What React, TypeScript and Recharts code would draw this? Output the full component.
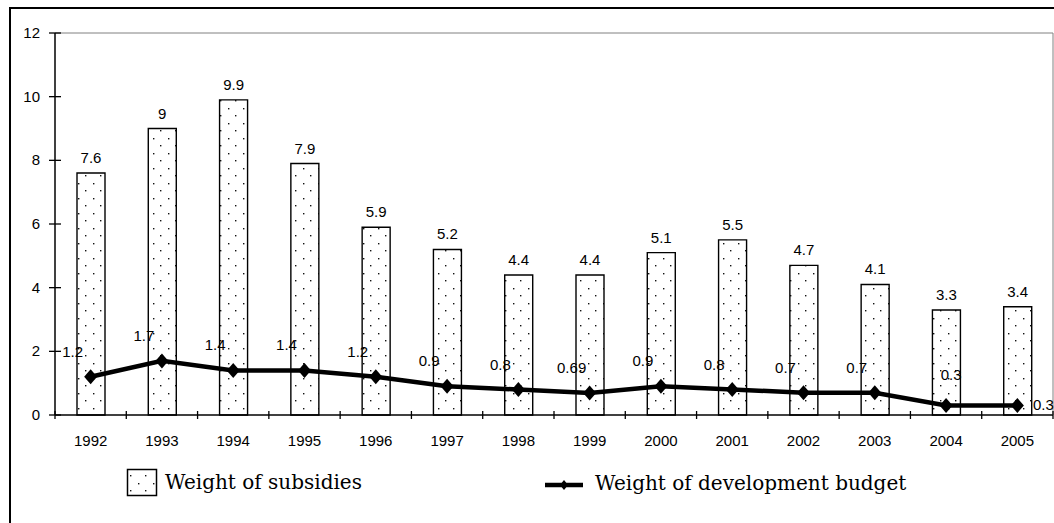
import React from "react";
import {
  ComposedChart,
  Bar,
  Line,
  XAxis,
  YAxis,
  LabelList,
  ReferenceLine,
} from "recharts";

const years = [
  "1992", "1993", "1994", "1995", "1996", "1997", "1998",
  "1999", "2000", "2001", "2002", "2003", "2004", "2005",
];
const subsidies = [7.6, 9, 9.9, 7.9, 5.9, 5.2, 4.4, 4.4, 5.1, 5.5, 4.7, 4.1, 3.3, 3.4];
const development = [1.2, 1.7, 1.4, 1.4, 1.2, 0.9, 0.8, 0.69, 0.9, 0.8, 0.7, 0.7, 0.3, 0.3];
const yTicks = [0, 2, 4, 6, 8, 10, 12];

const data = years.map((year, i) => ({
  year,
  subsidies: subsidies[i],
  development: development[i],
}));

const W = 1054;
const H = 523;
const Y_AXIS_W = 55;
const PLOT_W = W - Y_AXIS_W - 1;
const SANS = "'Liberation Sans', Arial, sans-serif";
const SERIF = "'DejaVu Serif', serif";

/* ticks cross the axis line, Excel style */
function XTick(props: any) {
  const { x, y, payload, index } = props;
  const bw = PLOT_W / years.length;
  return (
    <g>
      <line x1={x - bw / 2} x2={x - bw / 2} y1={y - 4} y2={y + 4} stroke="#000" strokeWidth={1.3} />
      {index === years.length - 1 && (
        <line x1={x + bw / 2} x2={x + bw / 2} y1={y - 4} y2={y + 4} stroke="#000" strokeWidth={1.3} />
      )}
      <text x={x} y={y + 31} textAnchor="middle" fontSize={15} fontFamily={SANS} fill="#000">
        {payload.value}
      </text>
    </g>
  );
}

function YTick(props: any) {
  const { x, y, payload } = props;
  return (
    <g>
      <line x1={x - 6} x2={x + 6} y1={y} y2={y} stroke="#000" strokeWidth={1.3} />
      <text x={x - 15} y={y + 5} textAnchor="end" fontSize={15} fontFamily={SANS} fill="#000">
        {payload.value}
      </text>
    </g>
  );
}

function Diamond(props: any) {
  const { cx, cy } = props;
  if (cx == null || cy == null) return null;
  return (
    <polygon
      points={`${cx},${cy - 7.5} ${cx + 6.5},${cy} ${cx},${cy + 7.5} ${cx - 6.5},${cy}`}
      fill="#000"
    />
  );
}

function LineLabel(props: any) {
  const { x, y, value, index } = props;
  let dx = -18;
  let dy = -25;
  if (index === years.length - 2) {
    dx = 5;
    dy = -30;
  }
  if (index === years.length - 1) {
    dx = 26;
    dy = 0;
  }
  return (
    <text
      x={x + dx}
      y={y + dy + 5}
      textAnchor="middle"
      fontSize={15}
      fontFamily={SANS}
      fill="#000"
    >
      {value}
    </text>
  );
}

function DotPattern({ id }: { id: string }) {
  return (
    <pattern id={id} width="15" height="15" patternUnits="userSpaceOnUse">
      <rect width="15" height="15" fill="#fff" />
      <rect x="3" y="3" width="1.4" height="1.4" fill="#111" />
      <rect x="10" y="10" width="1.4" height="1.4" fill="#111" />
    </pattern>
  );
}

export default function App() {
  return (
    <div
      style={{
        position: "absolute",
        left: 0,
        top: 0,
        width: W,
        height: H,
        background: "#fff",
        overflow: "hidden",
      }}
    >
      {/* outer frame, only left/top edges visible in the crop */}
      <div
        style={{
          position: "absolute",
          left: 9,
          top: 7,
          width: 1200,
          height: 700,
          borderLeft: "2px solid #000",
          borderTop: "2px solid #000",
        }}
      />
      <div style={{ position: "absolute", left: 0, top: 0 }}>
        <ComposedChart
          width={W}
          height={H}
          data={data}
          margin={{ top: 33, right: 0, left: 0, bottom: 78 }}
        >
          <defs>
            <DotPattern id="dots" />
          </defs>
          <XAxis
            dataKey="year"
            height={30}
            axisLine={{ stroke: "#000", strokeWidth: 1.5 }}
            tickLine={false}
            tickSize={0}
            tickMargin={0}
            interval={0}
            tick={(p: any) => <XTick {...p} />}
          />
          <YAxis
            width={Y_AXIS_W}
            domain={[0, 12]}
            ticks={yTicks}
            axisLine={{ stroke: "#000", strokeWidth: 1.5 }}
            tickLine={false}
            tickSize={0}
            tickMargin={0}
            interval={0}
            tick={(p: any) => <YTick {...p} />}
          />
          <YAxis
            yAxisId="r"
            orientation="right"
            width={1}
            domain={[0, 12]}
            tick={false}
            tickLine={false}
            axisLine={{ stroke: "#808080" }}
          />
          <ReferenceLine y={12} stroke="#808080" />
          <Bar
            dataKey="subsidies"
            barSize={28}
            fill="url(#dots)"
            stroke="#000"
            strokeWidth={1.4}
            isAnimationActive={false}
          >
            <LabelList
              dataKey="subsidies"
              position="top"
              offset={10}
              style={{ fontSize: 15, fontFamily: SANS, fill: "#000" }}
            />
          </Bar>
          <Line
            dataKey="development"
            type="linear"
            stroke="#000"
            strokeWidth={4.5}
            dot={(p: any) => <Diamond key={p.index} {...p} />}
            activeDot={false}
            isAnimationActive={false}
          >
            <LabelList dataKey="development" content={(p: any) => <LineLabel {...p} />} />
          </Line>
        </ComposedChart>
      </div>

      {/* legend */}
      <svg
        width={W}
        height={H}
        style={{ position: "absolute", left: 0, top: 0, pointerEvents: "none" }}
      >
        <defs>
          <DotPattern id="dotsLegend" />
        </defs>
        <rect x={127.5} y={469.5} width={29} height={26} fill="url(#dotsLegend)" stroke="#000" strokeWidth={1.5} />
        <text x={165} y={489} fontSize={20} fontFamily={SERIF} fill="#000">
          Weight of subsidies
        </text>
        <line x1={545} x2={583} y1={485} y2={485} stroke="#000" strokeWidth={4.5} />
        <polygon points="564,480 568,485 564,490 560,485" fill="#000" />
        <text x={595} y={490} fontSize={20} fontFamily={SERIF} fill="#000">
          Weight of development budget
        </text>
      </svg>
    </div>
  );
}
